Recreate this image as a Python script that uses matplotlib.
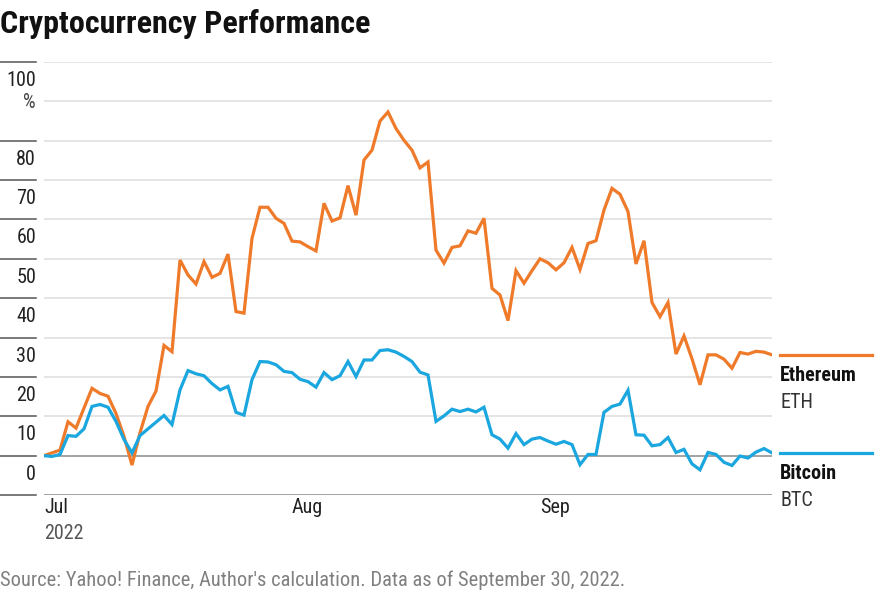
import matplotlib
matplotlib.use("Agg")
import pandas as pd
import matplotlib.pyplot as plt
from matplotlib import font_manager
from matplotlib.transforms import blended_transform_factory, offset_copy

# pick a narrow family if one is installed
names = {f.name for f in font_manager.fontManager.ttflist}
for fam in ["Liberation Sans Narrow", "Roboto Condensed", "Roboto"]:
    if fam in names:
        plt.rcParams["font.family"] = fam
        break

# daily values, 1 Jul - 30 Sep 2022, % change since 1 Jul
dates = pd.date_range("2022-07-01", "2022-09-30", freq="D")
eth = [0.0, 0.7, 1.4, 8.6, 7.0, 12.1, 17.1, 15.8, 15.1, 10.7,
       4.9, -2.4, 5.8, 12.5, 16.4, 28.0, 26.4, 49.7, 45.9, 43.6,
       49.3, 45.3, 46.3, 51.2, 36.6, 36.2, 55.2, 63.1, 63.1, 60.3,
       59.0, 54.5, 54.3, 53.1, 52.0, 64.1, 59.6, 60.4, 68.6, 61.1,
       75.1, 77.6, 85.0, 87.3, 83.1, 80.1, 77.6, 73.1, 74.6, 52.2,
       48.9, 52.9, 53.3, 57.1, 56.5, 60.3, 42.5, 40.8, 34.3, 47.0,
       43.8, 47.0, 50.0, 49.0, 47.2, 49.0, 52.9, 47.3, 53.9, 54.6,
       62.4, 67.9, 66.4, 62.0, 48.7, 54.6, 38.9, 35.3, 38.9, 25.8,
       30.4, 24.6, 18.0, 25.6, 25.6, 24.5, 22.2, 26.2, 25.8, 26.5,
       26.3, 25.6]
btc = [0.0, -0.2, 0.3, 5.1, 4.9, 6.8, 12.5, 13.0, 12.3, 8.7,
       4.1, 0.7, 5.1, 6.8, 8.5, 10.2, 7.9, 16.7, 21.6, 20.8,
       20.3, 18.3, 16.7, 17.6, 11.0, 10.3, 19.3, 23.9, 23.8, 23.1,
       21.4, 21.1, 19.4, 18.8, 17.4, 21.1, 19.3, 20.3, 23.9, 20.1,
       24.3, 24.3, 26.7, 26.9, 26.3, 25.2, 23.9, 21.2, 20.5, 8.7,
       10.1, 11.8, 11.2, 11.8, 11.1, 12.3, 5.3, 4.2, 1.9, 5.6,
       2.8, 4.2, 4.6, 3.7, 2.9, 3.6, 2.8, -2.3, 0.3, 0.3,
       11.0, 12.5, 13.1, 16.6, 5.3, 5.2, 2.5, 2.8, 4.6, 0.8,
       1.6, -2.1, -3.6, 0.8, 0.3, -1.7, -2.5, -0.1, -0.6, 0.9,
       1.8, 0.7]
series = [("Ethereum", "ETH", eth, "#EF7A2A"), ("Bitcoin", "BTC", btc, "#1AA6DE")]
yticks = [0, 10, 20, 30, 40, 50, 60, 70, 80, 100]
months = ["2022-07-01", "2022-08-01", "2022-09-01"]
month_labels = ["Jul", "Aug", "Sep"]

W, H = 886, 595
fig = plt.figure(figsize=(W / 100, H / 100), dpi=100)
ax = fig.add_axes([44 / W, 1 - 495 / H, (772 - 44) / W, (495 - 62) / H])

for name, code, vals, col in series:
    ax.plot(dates, vals, color=col, lw=2.3, solid_joinstyle="miter", zorder=3)

ax.set_xlim(dates[0], dates[-1])
ax.set_ylim(-10, 100)
for s in ax.spines.values():
    s.set_visible(False)
ax.set_xticks([])
ax.set_yticks([])

# gridlines
for v in range(-10, 101, 10):
    c = "#8a8a8a" if v in (0, -10) else "#dedede"
    ax.axhline(v, color=c, lw=1.1, zorder=1)

# short dark segments + labels on the left
bt = blended_transform_factory(fig.transFigure, ax.transData)
for v in [-10] + yticks:
    ax.plot([0, 36 / W], [v, v], color="#555555", lw=1.1, transform=bt, clip_on=False)
lab_tr = offset_copy(bt, fig=fig, y=-24, units="dots")
for v in yticks:
    ax.text(36 / W, v, str(v), transform=lab_tr, ha="right", va="baseline",
            fontsize=14.5, color="#222222")
ax.text(36 / W, 100, "%", transform=offset_copy(bt, fig=fig, y=-46, units="dots"),
        ha="right", va="baseline", fontsize=14.5, color="#444444")

# month labels
xt = blended_transform_factory(ax.transData, fig.transFigure)
for m, lab in zip(months, month_labels):
    ax.text(pd.Timestamp(m), 1 - 513 / H, lab, transform=xt, ha="left",
            va="baseline", fontsize=14.5, color="#222222")
ax.text(dates[0], 1 - 539 / H, "2022", transform=xt, ha="left", va="baseline",
        fontsize=14.5, color="#555555")

# end labels
lt = blended_transform_factory(fig.transFigure, ax.transData)
for name, code, vals, col in series:
    last = vals[-1]
    ax.plot([780 / W, 872 / W], [last, last], color=col, lw=2.3, transform=lt, clip_on=False)
    ax.text(780 / W, last, name, transform=offset_copy(lt, fig=fig, y=-26, units="dots"),
            ha="left", va="baseline", fontsize=14.5, fontweight="bold", color="#111111")
    ax.text(780 / W, last, code, transform=offset_copy(lt, fig=fig, y=-53, units="dots"),
            ha="left", va="baseline", fontsize=14.5, color="#333333")

fig.text(0 / W, 1 - 33 / H, "Cryptocurrency Performance", ha="left", va="baseline",
         fontsize=23, fontweight="bold", color="#111111")
fig.text(0 / W, 1 - 586 / H,
         "Source: Yahoo! Finance, Author's calculation. Data as of September 30, 2022.",
         ha="left", va="baseline", fontsize=14.8, color="#808080")

fig.savefig("out.png", dpi=100)
